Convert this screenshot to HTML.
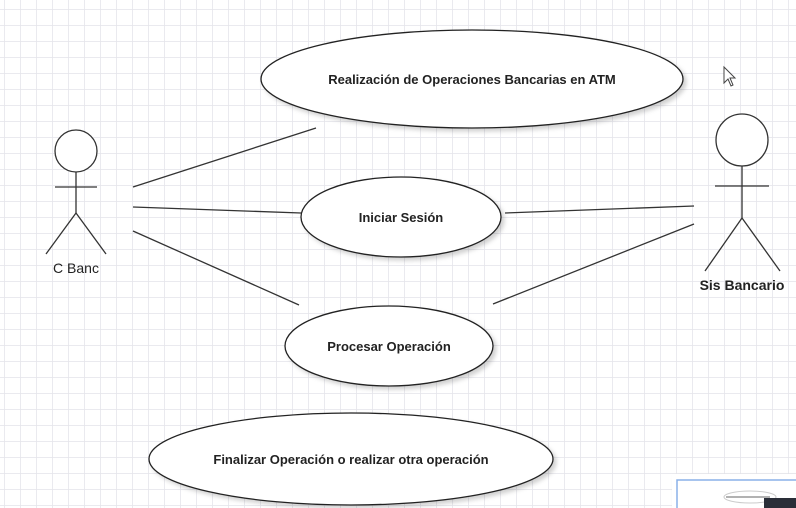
<!DOCTYPE html>
<html><head><style>
html,body{margin:0;padding:0;width:796px;height:508px;overflow:hidden;background:#fff}
svg{display:block}
text{font-family:"Liberation Sans",sans-serif;font-size:13px;fill:#222;font-weight:bold;text-anchor:middle}
</style></head><body>
<svg width="796" height="508" viewBox="0 0 796 508">
<defs>
<pattern id="g" x="4" y="9" width="16" height="16" patternUnits="userSpaceOnUse">
<path d="M0 0V16M0 0H16" stroke="#e4e4ea" stroke-width="1.5" fill="none"/>
</pattern>
<filter id="s" x="-10%" y="-20%" width="130%" height="150%"><feDropShadow dx="3" dy="3" stdDeviation="2" flood-color="#000" flood-opacity="0.18"/></filter>
</defs>
<rect width="796" height="508" fill="url(#g)"/>
<g stroke="#222" stroke-width="1.3" fill="#fff">
<ellipse cx="472" cy="79" rx="211" ry="49" filter="url(#s)"/>
<ellipse cx="401" cy="217" rx="100" ry="40" filter="url(#s)"/>
<ellipse cx="389" cy="346" rx="104" ry="40" filter="url(#s)"/>
<ellipse cx="351" cy="459" rx="202" ry="46" filter="url(#s)"/>
</g>
<g stroke="#333" stroke-width="1.3" fill="none">
<line x1="133" y1="187" x2="316" y2="128"/>
<line x1="133" y1="207" x2="301" y2="213"/>
<line x1="133" y1="231" x2="299" y2="305"/>
<line x1="505" y1="213" x2="694" y2="206"/>
<line x1="493" y1="304" x2="694" y2="224"/>
<circle cx="76" cy="151" r="21" fill="#fff"/>
<line x1="76" y1="172" x2="76" y2="213"/>
<line x1="55" y1="187" x2="97" y2="187"/>
<line x1="76" y1="213" x2="46" y2="254"/>
<line x1="76" y1="213" x2="106" y2="254"/>
<circle cx="742" cy="140" r="26" fill="#fff"/>
<line x1="742" y1="166" x2="742" y2="218"/>
<line x1="715" y1="186" x2="769" y2="186"/>
<line x1="742" y1="218" x2="705" y2="271"/>
<line x1="742" y1="218" x2="780" y2="271"/>
</g>
<text x="472" y="84">Realización de Operaciones Bancarias en ATM</text>
<text x="401" y="222">Iniciar Sesión</text>
<text x="389" y="351">Procesar Operación</text>
<text x="351" y="464">Finalizar Operación o realizar otra operación</text>
<text x="76" y="273" style="font-weight:normal;font-size:14px">C Banc</text>
<text x="742" y="290" style="font-size:14px">Sis Bancario</text>
<path d="M724 67 L724 83 L728 79 L731 86 L733 85 L730 78 L735 78 Z" fill="#fff" stroke="#444" stroke-width="1"/>
<rect x="672" y="474" width="130" height="40" fill="#fff" filter="url(#s)"/>
<rect x="677" y="480" width="120" height="30" fill="#fff" stroke="#8ab0e8" stroke-width="1.5"/>
<ellipse cx="750" cy="497" rx="26" ry="6" fill="none" stroke="#ccc"/>
<line x1="726" y1="497" x2="770" y2="497" stroke="#666"/>
<rect x="764" y="498" width="32" height="10" fill="#2a2e38"/>
</svg>
</body></html>
